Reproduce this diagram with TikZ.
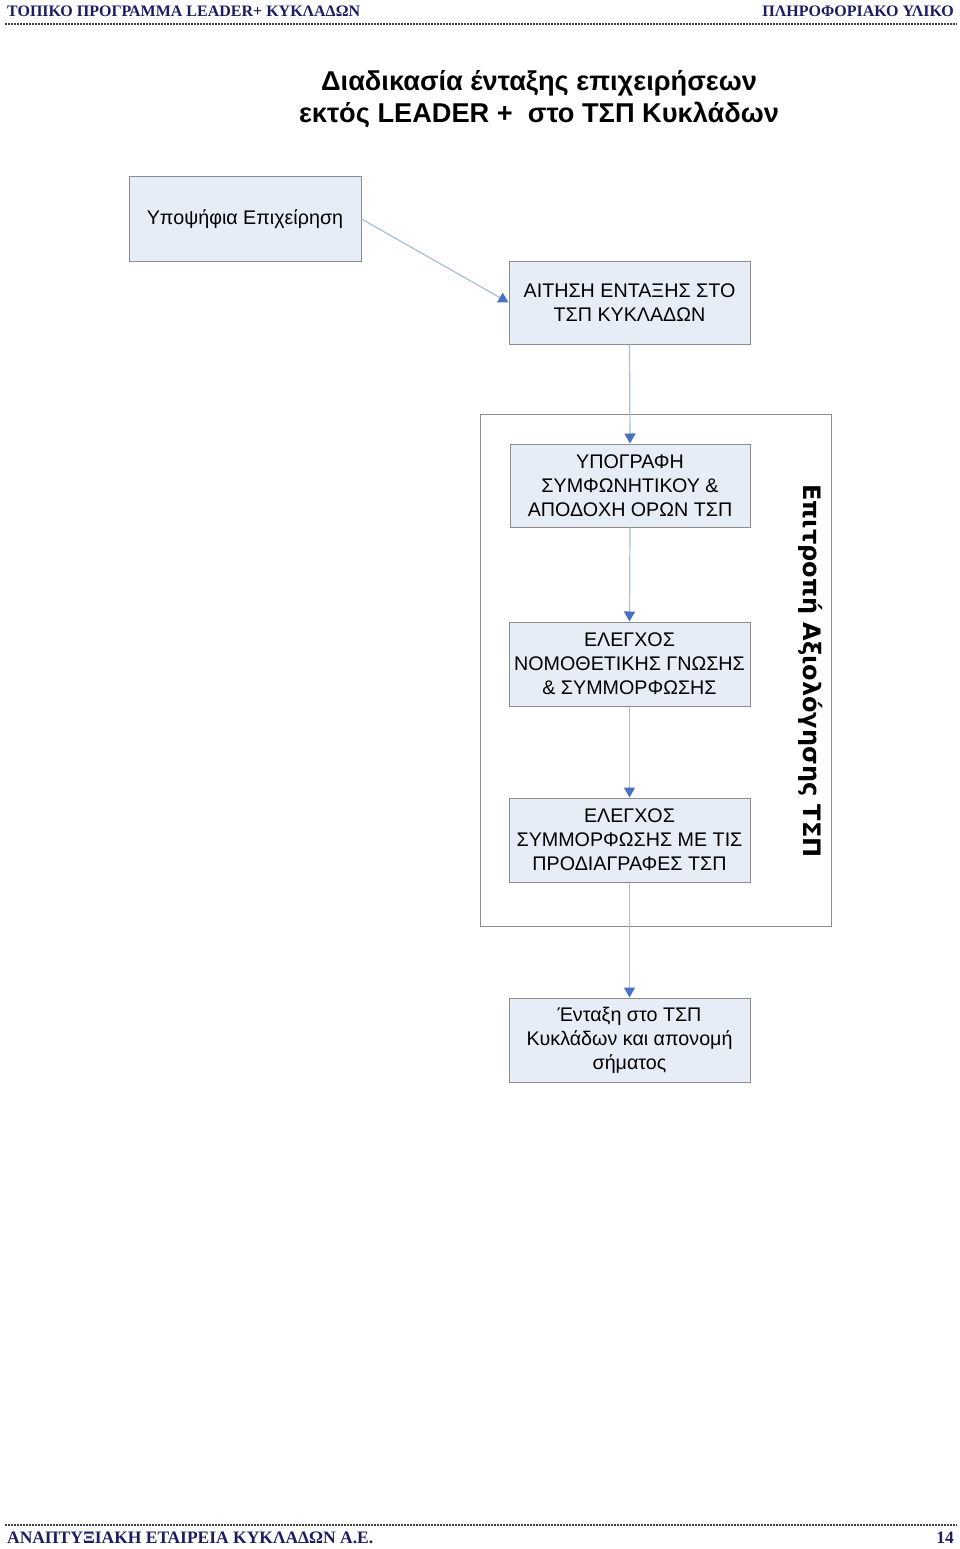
\documentclass[tikz,border=0pt]{standalone}
\usepackage{fontspec}
\setmainfont{Liberation Sans}
\newfontfamily\hdrfont{Liberation Serif}
\newfontfamily\dvfont{DejaVu Sans}
\usetikzlibrary{arrows.meta}
\definecolor{boxfill}{RGB}{231,237,247}
\definecolor{boxline}{RGB}{140,140,140}
\definecolor{arrline}{RGB}{170,190,215}
\definecolor{arrhead}{RGB}{70,114,196}
\definecolor{navy}{RGB}{28,28,100}
\tikzset{
  flowbox/.style={draw=boxline, fill=boxfill, line width=1pt, minimum width=241pt, minimum height=84pt, align=center, inner sep=0pt,
    font=\fontsize{19.7pt}{24pt}\selectfont},
  flowarrow/.style={draw=arrline, line width=1.2pt, -{Triangle[width=11pt,length=10pt,fill=arrhead,color=arrhead]}},
  dotline/.style={draw=black!75, line width=1.5pt, dash pattern=on 1.5pt off 1.5pt},
  hdrtext/.style={text=navy, font=\hdrfont\bfseries\fontsize{16pt}{18pt}\selectfont, inner sep=0pt},
  ftrtext/.style={text=navy, font=\hdrfont\bfseries\fontsize{17.5pt}{19pt}\selectfont, inner sep=0pt}
}
\begin{document}
\begin{tikzpicture}[x=1pt,y=-1pt]
\useasboundingbox (0,0) rectangle (960,1549);
% header and footer
\node[hdrtext, anchor=base west] (h1) at (7,17) {ΤΟΠΙΚΟ ΠΡΟΓΡΑΜΜΑ LEADER+ ΚΥΚΛΑΔΩΝ};
\node[hdrtext, anchor=base east] (h2) at (954,17) {ΠΛΗΡΟΦΟΡΙΑΚΟ ΥΛΙΚΟ};
\coordinate (d1a) at (5,24); \coordinate (d1b) at (957,24);
\draw[dotline] (d1a) -- (d1b);
\coordinate (d2a) at (5,1525); \coordinate (d2b) at (957,1525);
\draw[dotline] (d2a) -- (d2b);
\node[ftrtext, anchor=base west] (f1) at (7,1543) {ΑΝΑΠΤΥΞΙΑΚΗ ΕΤΑΙΡΕΙΑ ΚΥΚΛΑΔΩΝ Α.Ε.};
\node[ftrtext, anchor=base east] (f2) at (954,1543) {14};
% title
\node[align=center, font=\bfseries\fontsize{27.2pt}{32pt}\selectfont, inner sep=0pt] (title) at (539,99) {Διαδικασία ένταξης επιχειρήσεων\\εκτός LEADER +\ \ στο ΤΣΠ Κυκλάδων};
% container
\node[draw=boxline, line width=1pt, fill=white, minimum width=351pt, minimum height=512pt, inner sep=0pt] (cont) at (655.5,670) {};
\node[rotate=-90, font=\dvfont\bfseries\fontsize{24pt}{28pt}\selectfont, inner sep=0pt] (lbl) at (811,671) {Επιτροπή Αξιολόγησης ΤΣΠ};
% boxes
\node[flowbox, minimum width=232pt] (b1) at (245,219) {Υποψήφια Επιχείρηση};
\node[flowbox, minimum height=83pt] (b2) at (629.5,302.5) {ΑΙΤΗΣΗ ΕΝΤΑΞΗΣ ΣΤΟ\\ΤΣΠ ΚΥΚΛΑΔΩΝ};
\node[flowbox, minimum width=240pt, minimum height=83pt] (b3) at (630,485.5) {ΥΠΟΓΡΑΦΗ\\ΣΥΜΦΩΝΗΤΙΚΟΥ \&\\ΑΠΟΔΟΧΗ ΟΡΩΝ ΤΣΠ};
\node[flowbox] (b4) at (629.5,664) {ΕΛΕΓΧΟΣ\\ΝΟΜΟΘΕΤΙΚΗΣ ΓΝΩΣΗΣ\\\& ΣΥΜΜΟΡΦΩΣΗΣ};
\node[flowbox] (b5) at (629.5,840) {ΕΛΕΓΧΟΣ\\ΣΥΜΜΟΡΦΩΣΗΣ ΜΕ ΤΙΣ\\ΠΡΟΔΙΑΓΡΑΦΕΣ ΤΣΠ};
\node[flowbox] (b6) at (629.5,1040) {Ένταξη στο ΤΣΠ\\Κυκλάδων και απονομή\\σήματος};
% arrows
\draw[flowarrow] (b1.east) -- (b2.west);
\draw[flowarrow] (b2.south) -- (b3.north);
\draw[flowarrow] (b3.south) -- (b4.north);
\draw[flowarrow] (b4.south) -- (b5.north);
\draw[flowarrow] (b5.south) -- (b6.north);
\end{tikzpicture}
\end{document}
